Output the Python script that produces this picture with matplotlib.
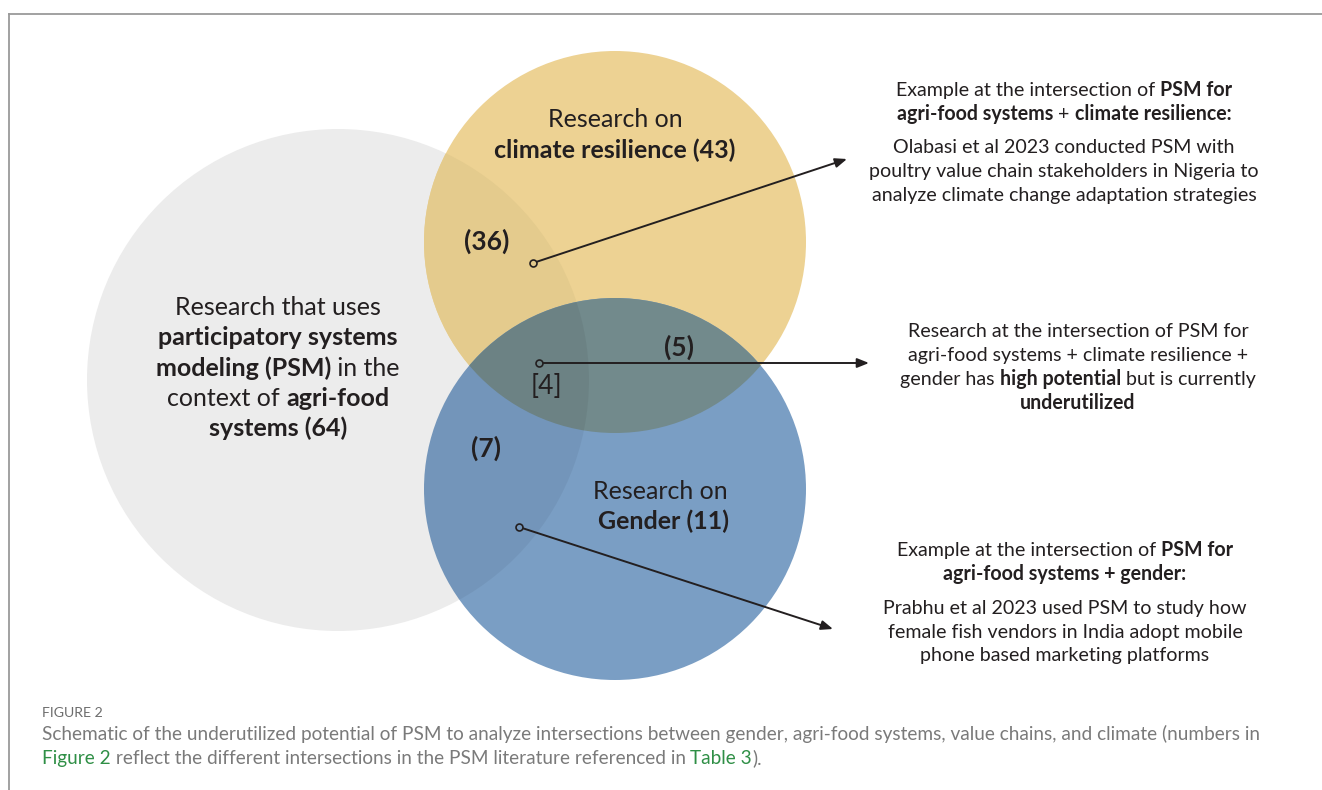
import matplotlib
matplotlib.use("Agg")
import matplotlib.pyplot as plt
from matplotlib.patches import Circle, FancyArrowPatch

FONT = ["Lato", "DejaVu Sans"]
INK = "#231f20"

# circle sets and their study counts
set_names = ["agri-food systems", "climate resilience", "gender"]
set_counts = [64, 43, 11]
# intersection counts: agri+climate, agri+gender, climate+gender, all three
pair_counts = [36, 7, 5]
triple_count = 4

set_colors = ["#ececec", "#edd293", "#7a9ec4"]
yellow_on_gray = "#e4cb8d"
blue_on_yellow = "#728a8c"

W, H = 1322, 790
fig = plt.figure(figsize=(W / 100, H / 100), dpi=100)
ax = fig.add_axes([0, 0, 1, 1])
ax.set_xlim(0, W)
ax.set_ylim(H, 0)
ax.axis("off")
renderer = fig.canvas.get_renderer()

# frame lines
ax.plot([9, W], [14, 14], color="#9a9a9a", lw=1.3)
ax.plot([9, 9], [14, H], color="#9a9a9a", lw=1.3)

# circles (pixel centres / radii)
gray = Circle((338, 380), 251, fc=set_colors[0], ec="none", zorder=1)
ax.add_patch(gray)
yel = Circle((615, 242), 191, fc=set_colors[1], ec="none", zorder=2)
ax.add_patch(yel)
yg = Circle((615, 242), 191, fc=yellow_on_gray, ec="none", zorder=3)
ax.add_patch(yg)
yg.set_clip_path(gray)
blue = Circle((615, 489), 191, fc=set_colors[2], ec="none", zorder=4)
ax.add_patch(blue)
by = Circle((615, 489), 191, fc=blue_on_yellow, ec="none", zorder=5)
ax.add_patch(by)
by.set_clip_path(yel)
shade = Circle((338, 380), 251, fc="black", alpha=0.05, ec="none", zorder=6)
ax.add_patch(shade)
shade.set_clip_path(blue)


def rich(x, y, parts, size, color=INK, align="center"):
    texts, widths = [], []
    for s, bold in parts:
        t = ax.text(0, y, s, fontsize=size, family=FONT, color=color,
                    fontweight="bold" if bold else "normal",
                    ha="left", va="baseline", zorder=10)
        texts.append(t)
        widths.append(t.get_window_extent(renderer=renderer).width)
    x0 = x - sum(widths) / 2 if align == "center" else x
    for t, w in zip(texts, widths):
        t.set_x(x0)
        x0 += w


big = 18
# circle labels
rich(615, 127, [("Research on", False)], big)
rich(615, 158, [(f"climate resilience ({set_counts[1]})", True)], big)
rich(660, 499, [("Research on", False)], big)
rich(663, 529, [(f"Gender ({set_counts[2]})", True)], big)

gl = [
    [("Research that uses", False)],
    [("participatory systems", True)],
    [("modeling (PSM)", True), (" in the", False)],
    [("context of ", False), ("agri-food", True)],
    [(f"systems ({set_counts[0]})", True)],
]
for i, parts in enumerate(gl):
    rich(278, 315 + i * 30.3, parts, big)

# intersection numbers
num = 19
rich(487, 250, [(f"({pair_counts[0]})", True)], num)
rich(679, 356, [(f"({pair_counts[2]})", True)], num)
rich(486, 457, [(f"({pair_counts[1]})", True)], num)
rich(546, 394, [(f"[{triple_count}]", False)], num)

# leader arrows
leaders = [((533, 263), (847, 159)), ((539, 363), (869, 363)), ((519, 527), (833, 629))]
for (x0, y0), (x1, y1) in leaders:
    ax.add_patch(FancyArrowPatch((x0, y0), (x1, y1), arrowstyle="-|>,head_length=7,head_width=2.8",
                                 color=INK, lw=1.4, shrinkA=3, shrinkB=0, zorder=8))
    ax.plot(x0, y0, "o", ms=5, mfc="none", mec=INK, mew=1.2, zorder=9)

small = 14.1
b1 = [
    [("Example at the intersection of ", False), ("PSM for", True)],
    [("agri-food systems", True), (" + ", False), ("climate resilience:", True)],
    None,
    [("Olabasi et al 2023 conducted PSM with", False)],
    [("poultry value chain stakeholders in Nigeria to", False)],
    [("analyze climate change adaptation strategies", False)],
]
ys1 = [96, 120, None, 153, 177, 201]
for parts, y in zip(b1, ys1):
    if parts:
        rich(1064, y, parts, small)

b2 = [
    [("Research at the intersection of PSM for", False)],
    [("agri-food systems + climate resilience +", False)],
    [("gender has ", False), ("high potential", True), (" but is currently", False)],
    [("underutilized", True)],
]
for i, parts in enumerate(b2):
    rich(1078, 337 + i * 24, parts, small)

b3 = [
    [("Example at the intersection of ", False), ("PSM for", True)],
    [("agri-food systems + gender:", True)],
    [("Prabhu et al 2023 used PSM to study how", False)],
    [("female fish vendors in India adopt mobile", False)],
    [("phone based marketing platforms", False)],
]
ys3 = [556, 580, 614, 638, 661]
for parts, y in zip(b3, ys3):
    rich(1065, y, parts, small)

# caption
ax.text(42, 717, "FIGURE 2", fontsize=10.2, family=FONT, color="#6d6d6d", va="baseline")
cap_gray, cap_green = "#7a7a7a", "#2f8f46"
rich(42, 740, [("Schematic of the underutilized potential of PSM to analyze intersections between gender, "
                "agri-food systems, value chains, and climate (numbers in", False)], 13.7, cap_gray, "left")
texts = [("Figure 2", cap_green), (" reflect the different intersections in the PSM literature referenced in ", cap_gray),
         ("Table 3", cap_green), (").", cap_gray)]
x0 = 42
for s, c in texts:
    t = ax.text(x0, 764, s, fontsize=13.7, family=FONT, color=c, va="baseline")
    x0 += t.get_window_extent(renderer=renderer).width

fig.savefig("out.png", dpi=100)
